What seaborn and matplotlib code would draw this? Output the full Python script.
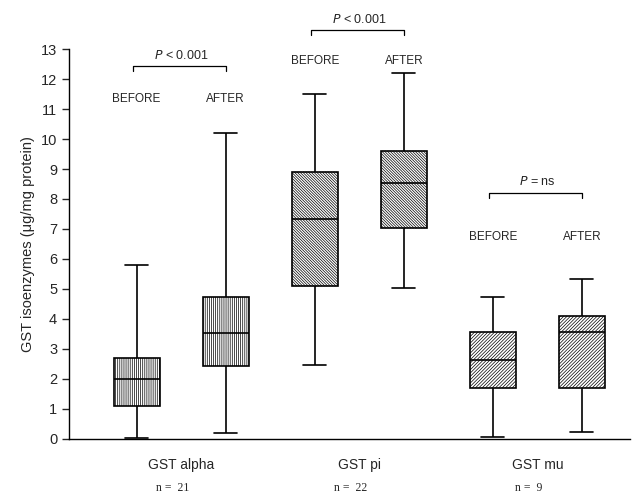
import numpy as np
import pandas as pd
import seaborn as sns
import matplotlib
matplotlib.use("Agg")
import matplotlib.pyplot as plt
from matplotlib.transforms import blended_transform_factory

# valores: min, Q1, mediana, Q3, max
grupos = ["GST alpha", "GST pi", "GST mu"]
momentos = ["BEFORE", "AFTER"]
n_amostras = [21, 22, 9]
p_textos = ["< 0.001", "< 0.001", "= ns"]

alpha_antes = [0.05, 1.1, 2.0, 2.7, 5.8]
alpha_depois = [0.2, 2.42, 3.55, 4.75, 10.2]
pi_antes = [2.47, 5.1, 7.35, 8.9, 11.5]
pi_depois = [5.02, 7.02, 8.55, 9.6, 12.2]
mu_antes = [0.07, 1.7, 2.62, 3.57, 4.72]
mu_depois = [0.25, 1.7, 3.57, 4.1, 5.35]

valores = {
    ("GST alpha", "BEFORE"): alpha_antes,
    ("GST alpha", "AFTER"): alpha_depois,
    ("GST pi", "BEFORE"): pi_antes,
    ("GST pi", "AFTER"): pi_depois,
    ("GST mu", "BEFORE"): mu_antes,
    ("GST mu", "AFTER"): mu_depois,
}

linhas = []
for (g, m), vals in valores.items():
    for v in vals:
        linhas.append({"grupo": g, "momento": m, "valor": v})
df = pd.DataFrame(linhas)

sns.set_theme(style="ticks")
plt.rcParams["font.family"] = ["Liberation Sans", "DejaVu Sans"]
plt.rcParams["hatch.linewidth"] = 0.5

fig = plt.figure(figsize=(6.38, 4.96), dpi=100)
ax = fig.add_axes([69 / 638, 57 / 496, 561 / 638, 390 / 496])

sns.boxplot(
    data=df, x="grupo", y="valor", hue="momento",
    order=grupos, hue_order=momentos,
    whis=(0, 100), width=1.0, gap=0.48,
    color="white", linecolor="black", linewidth=1.2,
    legend=False, ax=ax
)

# hachuras por grupo
hachuras = ["||||||||", "\\" * 12, "/" * 10]
for patch in ax.patches:
    ext = patch.get_path().get_extents()
    cx = (ext.x0 + ext.x1) / 2
    i = int(round(cx))
    patch.set_hatch(hachuras[i])
    patch.set_facecolor("white")
    patch.set_edgecolor("black")

ax.set_xlim(-0.63, 2.52)
ax.set_ylim(0, 13)
ax.set_yticks(range(0, 14))
ax.tick_params(axis="y", labelsize=10.5, length=5, width=1.0, direction="out")
ax.tick_params(axis="x", length=0, labelsize=10, pad=14)
ax.set_xticks(range(3))
ax.set_xticklabels(grupos)
ax.set_xlabel("")
ax.set_ylabel("GST isoenzymes (\u03bcg/mg protein)", fontsize=10.5)
sns.despine(ax=ax)
for s in ["left", "bottom"]:
    ax.spines[s].set_linewidth(1.0)
    ax.spines[s].set_color("black")

# rótulos BEFORE / AFTER
altura_rotulo = [11.35, 12.6, 6.75]
for i, h in enumerate(altura_rotulo):
    for j, m in enumerate(momentos):
        ax.text(i + (j - 0.5) * 0.5, h, m, ha="center", va="center", fontsize=8.5)

# colchetes com P
altura_colchete = [12.43, 13.63, 8.2]
for i, h in enumerate(altura_colchete):
    x0, x1 = i - 0.27, i + 0.25
    ax.plot([x0, x0, x1, x1], [h - 0.17, h, h, h - 0.17], color="black",
            linewidth=0.9, clip_on=False)
    ax.text(i, h + 0.37, "$\\it{P}$ " + p_textos[i], ha="center", va="center",
            fontsize=9)

# n de amostras
trans = blended_transform_factory(ax.transData, ax.transAxes)
for i, n in enumerate(n_amostras):
    ax.text(i - 0.05, -0.126, f"n =  {n}", transform=trans, ha="center", va="center",
            fontsize=8.5, family=["Liberation Serif", "DejaVu Serif"])

fig.savefig("out.png", dpi=100)
